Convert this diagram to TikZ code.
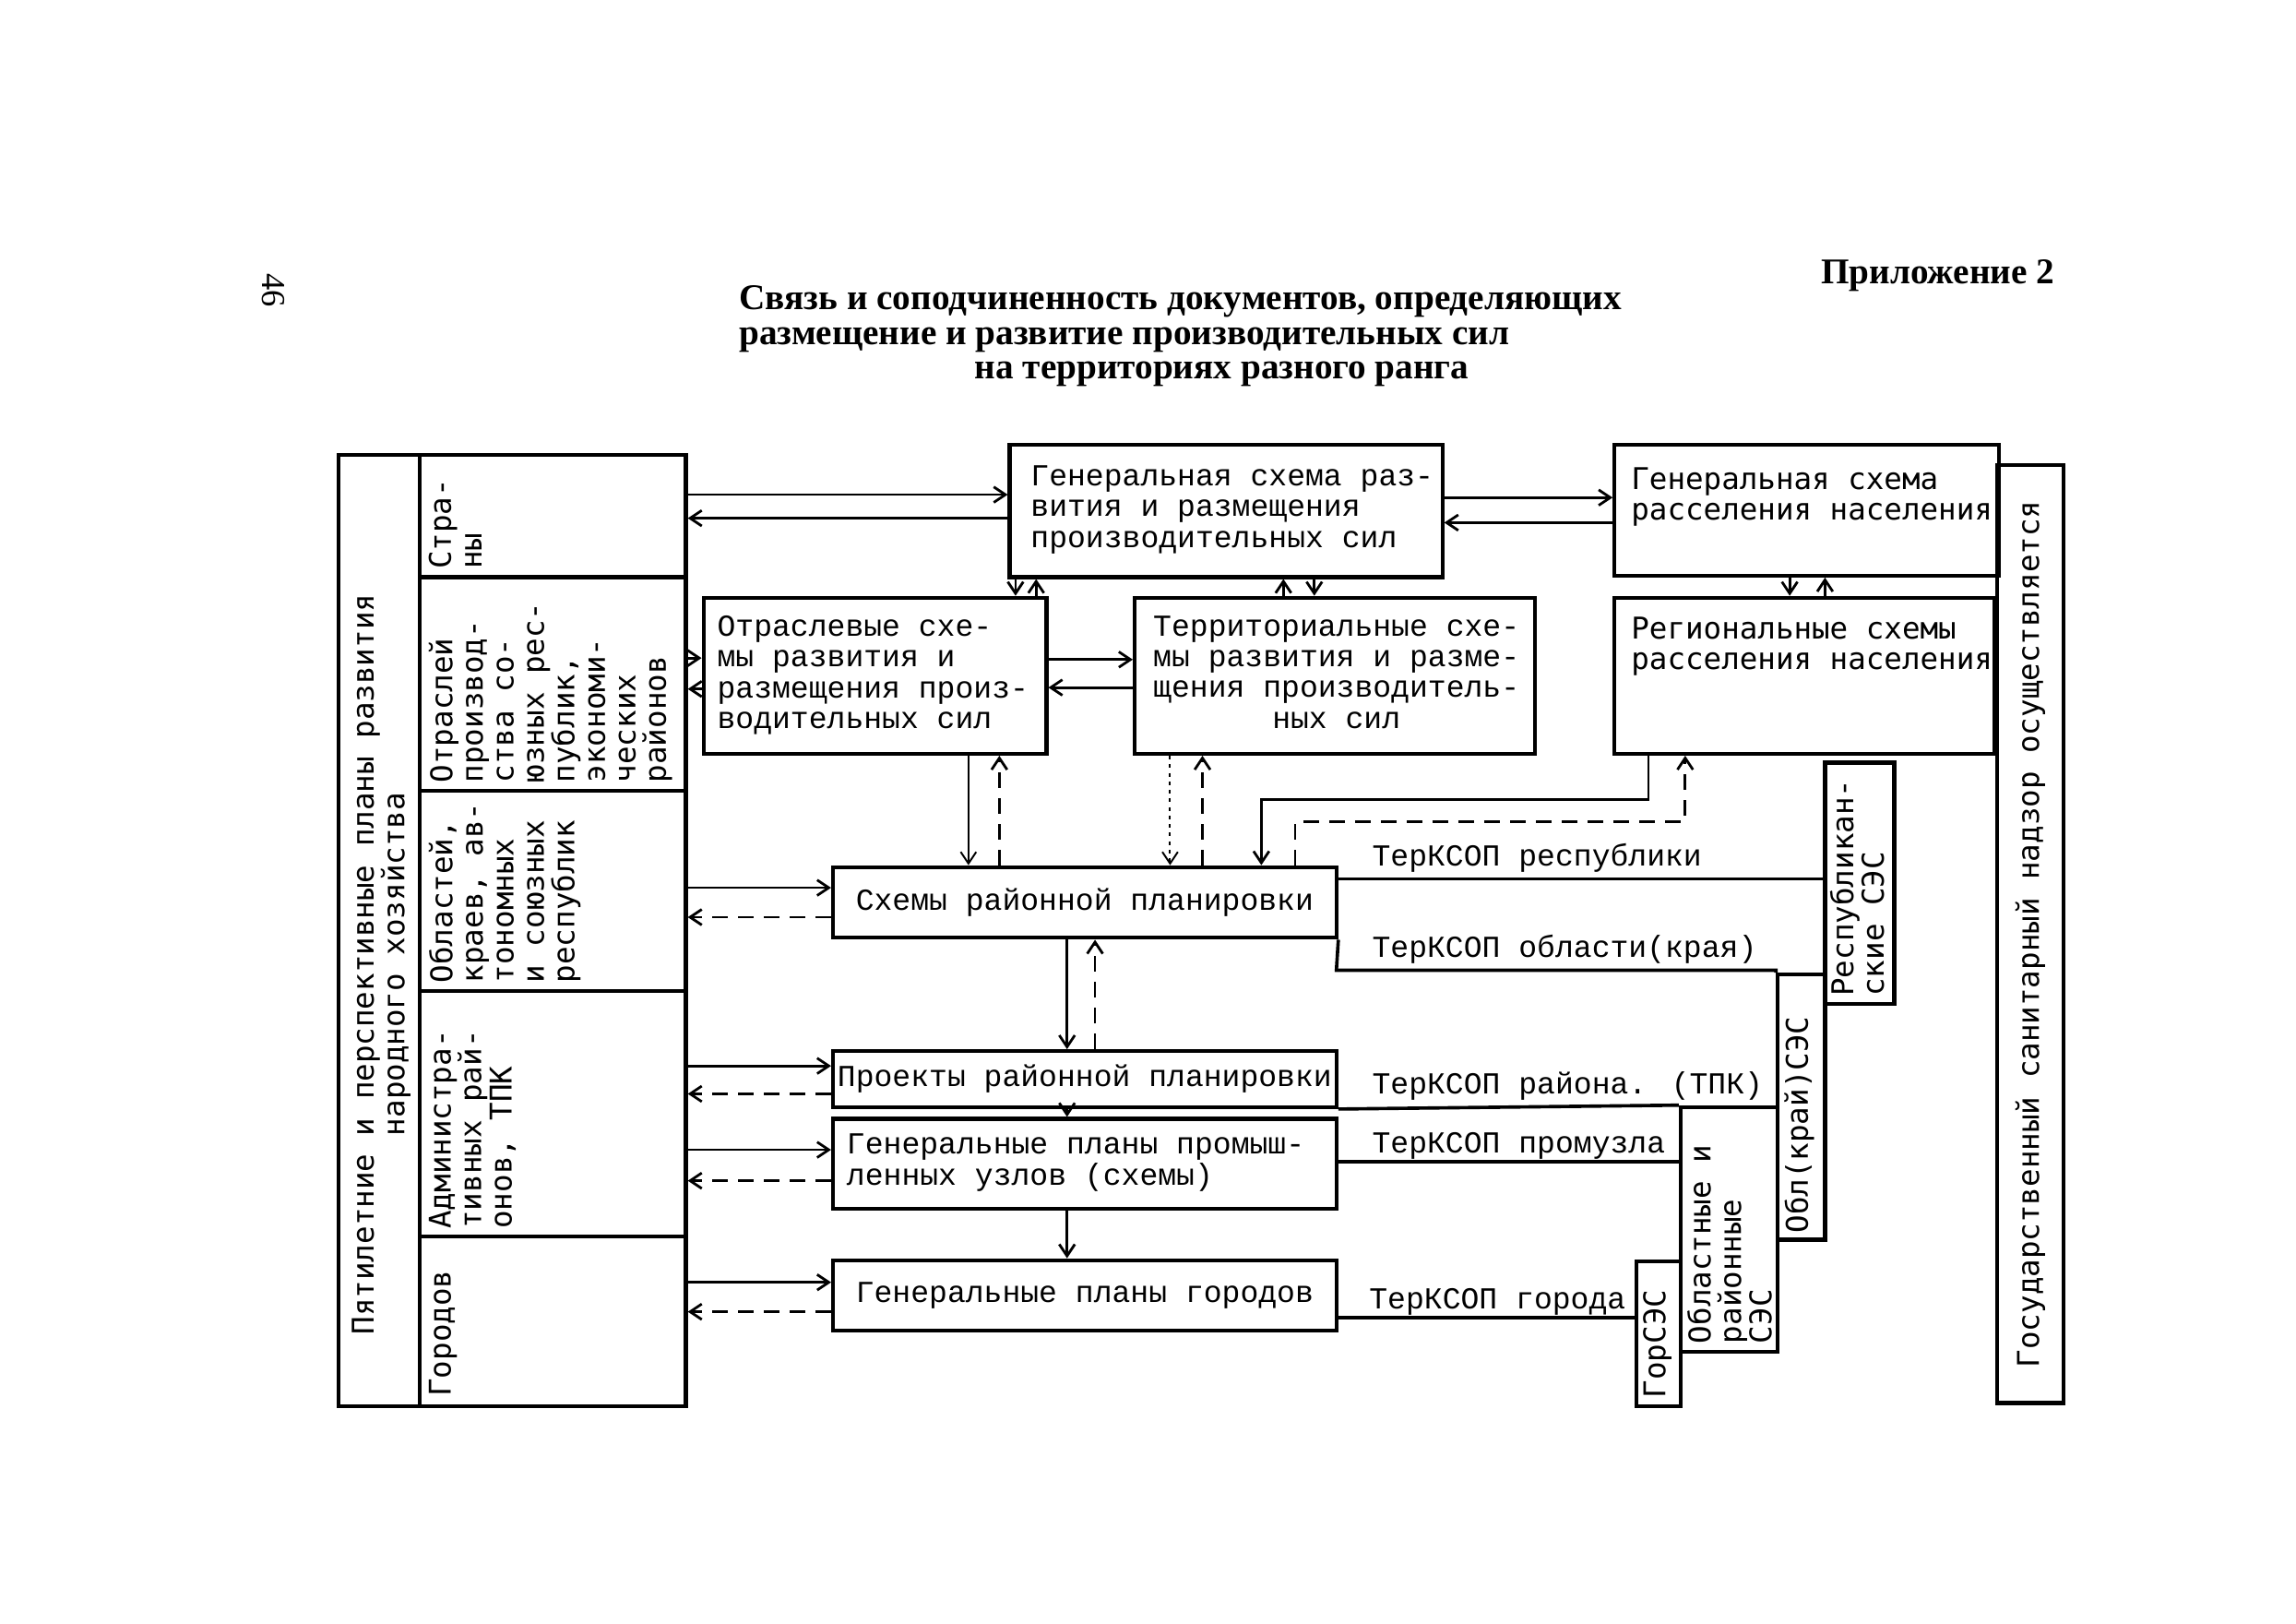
\documentclass[tikz,border=0pt]{standalone}
\usepackage{fontspec}
\setmainfont{Liberation Serif}
\newfontfamily\tw{Liberation Mono}
\newfontfamily\sw{DejaVu Sans Mono}
\usetikzlibrary{fit,arrows.meta}
\begin{document}
\begin{tikzpicture}[x=0.02cm,y=-0.02cm,
  box/.style={draw, line width=1.5pt, inner sep=0pt, rectangle},
  tx/.style={font=\tw\fontsize{11.8}{11.9}\selectfont, inner sep=0pt, align=left, anchor=north west},
  sx/.style={font=\sw\fontsize{11.6}{11.8}\selectfont, inner sep=0pt, align=left},
  lab/.style={font=\tw\fontsize{11.8}{11.9}\selectfont, inner sep=0pt, anchor=base west},
  ttl/.style={font=\bfseries\fontsize{14}{16}\selectfont, inner sep=0pt, anchor=base west},
  arr/.style={line width=1pt, -{Straight Barb[length=4.5pt,width=6pt]}},
  tarr/.style={line width=0.7pt, -{Straight Barb[length=4.5pt,width=6pt]}},
  dsh/.style={dash pattern=on 6pt off 4pt},
  dts/.style={dash pattern=on 1.5pt off 1.8pt},
  ln/.style={line width=1.3pt}]
\useasboundingbox (0,0) rectangle (1560,1103.1);

% page number and titles
\node[font=\fontsize{13}{15}\selectfont, rotate=-90, inner sep=0pt] (pg) at (186,197) {46};
\node[ttl] (app) at (1237,193) {Приложение 2};
\node[ttl] (t1) at (502,210) {Связь и соподчиненность документов, определяющих};
\node[ttl] (t2) at (502,234) {размещение и развитие производительных сил};
\node[ttl] (t3) at (662,257) {на территориях разного ранга};

% left panel
\node[box, fit={(230,309) (466,955)}] (lp) {};
\draw[line width=1.5pt] (285,309) -- (285,955);
\draw[line width=1.5pt] (285,392) -- (466,392);
\draw[line width=1.5pt] (285,537) -- (466,537);
\draw[line width=1.5pt] (285,673) -- (466,673);
\draw[line width=1.5pt] (285,840) -- (466,840);
\node[sx, rotate=90, align=center] (lpt) at (259,655) {Пятилетние и перспективные планы развития\\народного хозяйства};
\node[sx, rotate=90, anchor=north west] (c1) at (291,387) {Стра-\\ны};
\node[sx, rotate=90, anchor=north west] (c2) at (291,532) {Отраслей\\производ-\\ства со-\\юзных рес-\\публик,\\экономи-\\ческих\\районов};
\node[sx, rotate=90, anchor=north west] (c3) at (291,668) {Областей,\\краев, ав-\\тономных\\и союзных\\республик};
\node[sx, rotate=90, anchor=north west] (c4) at (291,835) {Администра-\\тивных рай-\\онов, ТПК};
\node[sx, rotate=90, anchor=north west] (c5) at (291,949) {Городов};

% boxes
\node[box, fit={(686,302) (980,392)}] (GenR) {};
\node[box, fit={(1097,302) (1358,391)}] (GenS) {};
\node[box, fit={(478,406) (711,512)}] (Otr) {};
\node[box, fit={(771,406) (1043,512)}] (Ter) {};
\node[box, fit={(1097,406) (1355,512)}] (Reg) {};
\node[box, fit={(566,589) (908,637)}] (Sxr) {};
\node[box, fit={(566,714) (908,752)}] (Pr) {};
\node[box, fit={(566,760) (908,821)}] (GPP) {};
\node[box, fit={(566,856) (908,904)}] (GPG) {};
\node[box, fit={(1240,518) (1287,682)}] (Resp) {};
\node[box, fit={(1208,662) (1240,842)}] (OblK) {};
\node[box, fit={(1142,752) (1208,918)}] (OblRn) {};
\node[box, fit={(1112,857) (1142,955)}] (Gor) {};
\node[box, fit={(1357,316) (1402,953)}] (Nadz) {};

% box texts
\node[tx] (GenRt) at (700,316) {Генеральная схема раз-\\вития и размещения\\производительных сил};
\node[sx, anchor=north west] (GenSt) at (1108,317) {Генеральная схема\\расселения населения};
\node[tx] (Otrt) at (487,418) {Отраслевые схе-\\мы развития и\\размещения произ-\\водительных сил};
\node[tx, anchor=north, align=center] (Tert) at (908,418) {Территориальные схе-\\мы развития и разме-\\щения производитель-\\ных сил};
\node[sx, anchor=north west] (Regt) at (1108,419) {Региональные схемы\\расселения населения};
\node[tx, anchor=center] (Sxrt) at (Sxr) {Схемы районной планировки};
\node[tx, anchor=center] (Prt) at (Pr) {Проекты районной планировки};
\node[tx] (GPPt) at (575,770) {Генеральные планы промыш-\\ленных узлов (схемы)};
\node[tx, anchor=center] (GPGt) at (GPG) {Генеральные планы городов};

% rotated texts on the right
\node[sx, rotate=90] (Nadzt) at (Nadz) {Государственный санитарный надзор осуществляется};
\node[sx, rotate=90, anchor=north west] (Respt) at (1243,677) {Республикан-\\ские СЭС};
\node[sx, rotate=90, anchor=north west] (OblKt) at (1212,838) {Обл(край)СЭС};
\node[sx, rotate=90, anchor=north west] (OblRnt) at (1146,913) {Областные и\\районные\\СЭС};
\node[sx, rotate=90, anchor=north west] (Gort) at (1116,950) {ГорСЭС};

% TerKSOP labels
\node[lab] (l1) at (932,588) {ТерКСОП республики};
\node[lab] (l2) at (932,650) {ТерКСОП области(края)};
\node[lab] (l3) at (932,743) {ТерКСОП района. (ТПК)};
\node[lab] (l4) at (932,783) {ТерКСОП промузла};
\node[lab] (l5) at (930,889) {ТерКСОП города};

% connectors: left panel <-> boxes
\draw[arr] (lp.east |- 0,336) -- (GenR.west |- 0,336);
\draw[arr] (GenR.west |- 0,352) -- (lp.east |- 0,352);
\draw[arr] (lp.east |- 0,447) -- (Otr.west |- 0,447);
\draw[arr] (Otr.west |- 0,468) -- (lp.east |- 0,468);
\draw[arr] (lp.east |- 0,603) -- (Sxr.west |- 0,603);
\draw[arr, dsh] (Sxr.west |- 0,623) -- (lp.east |- 0,623);
\draw[arr] (lp.east |- 0,724) -- (Pr.west |- 0,724);
\draw[arr, dsh] (Pr.west |- 0,743) -- (lp.east |- 0,743);
\draw[arr] (lp.east |- 0,781) -- (GPP.west |- 0,781);
\draw[arr, dsh] (GPP.west |- 0,802) -- (lp.east |- 0,802);
\draw[arr] (lp.east |- 0,871) -- (GPG.west |- 0,871);
\draw[arr, dsh] (GPG.west |- 0,891) -- (lp.east |- 0,891);

% top row
\draw[arr] (GenR.east |- 0,338) -- (GenS.west |- 0,338);
\draw[arr] (GenS.west |- 0,355) -- (GenR.east |- 0,355);
\draw[arr] (GenR.south -| 690,0) -- (Otr.north -| 690,0);
\draw[arr] (Otr.north -| 704,0) -- (GenR.south -| 704,0);
\draw[arr] (Ter.north -| 872,0) -- (GenR.south -| 872,0);
\draw[arr] (GenR.south -| 893,0) -- (Ter.north -| 893,0);
\draw[arr] (Otr.east |- 0,448) -- (Ter.west |- 0,448);
\draw[arr] (Ter.west |- 0,467) -- (Otr.east |- 0,467);
\draw[arr] (GenS.south -| 1216,0) -- (Reg.north -| 1216,0);
\draw[arr] (Reg.north -| 1240,0) -- (GenS.south -| 1240,0);

% to district planning schemes
\draw[tarr] (Otr.south -| 658,0) -- (Sxr.north -| 658,0);
\draw[arr, dsh] (Sxr.north -| 679,0) -- (Otr.south -| 679,0);
\draw[tarr, dts] (Ter.south -| 795,0) -- (Sxr.north -| 795,0);
\draw[arr, dsh] (Sxr.north -| 817,0) -- (Ter.south -| 817,0);
\draw[arr] (Reg.south -| 1120,0) |- (857,543) -- (Sxr.north -| 857,0);
\draw[arr, dsh] (Sxr.north -| 880,0) |- (1145,558) -- (Reg.south -| 1145,0);

% vertical chain
\draw[arr] (Sxr.south -| 725,0) -- (Pr.north -| 725,0);
\draw[arr, dsh] (Pr.north -| 744,0) -- (Sxr.south -| 744,0);
\draw[arr] (Pr.south -| 725,0) -- (GPP.north -| 725,0);
\draw[arr] (GPP.south -| 725,0) -- (GPG.north -| 725,0);

% TerKSOP lines
\draw[ln] (Sxr.east |- 0,597) -- (Resp.west |- 0,597);
\draw[ln] (Sxr.south east) -- (908,659) -| (OblK.north west);
\draw[ln] (Pr.south east) -- (OblRn.north west);
\draw[ln] (GPP.east |- 0,789) -- (OblRn.west |- 0,789);
\draw[ln] (GPG.east |- 0,895) -- (Gor.west |- 0,895);
\end{tikzpicture}
\end{document}
